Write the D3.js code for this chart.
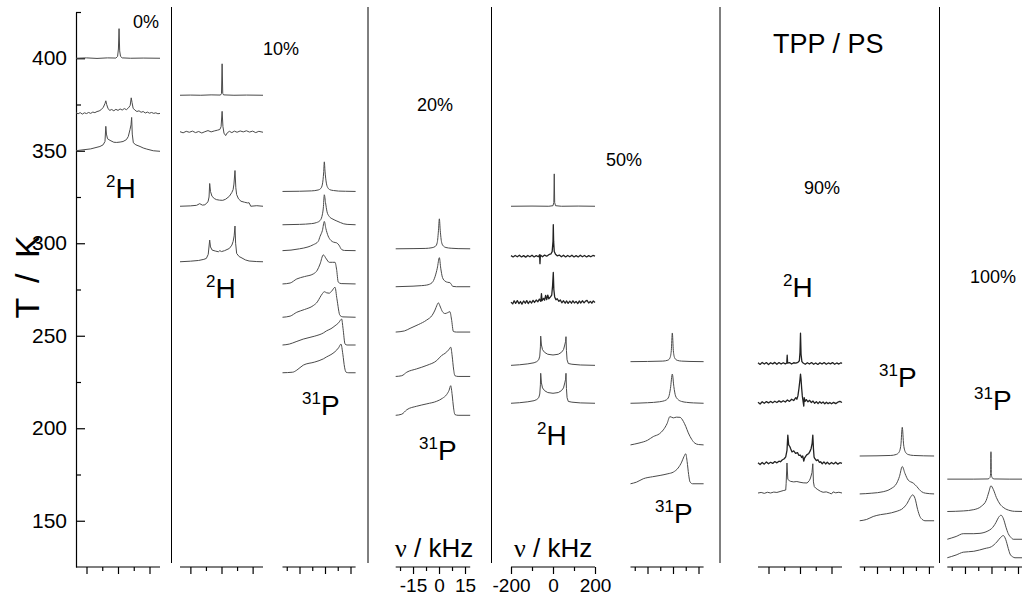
<!DOCTYPE html>
<html><head><meta charset="utf-8">
<script src="https://cdn.jsdelivr.net/npm/d3@7"></script>
<style>body{margin:0;background:#fff}svg{display:block;font-family:"Liberation Sans",Arial,sans-serif}</style>
</head><body>
<script>
// ---------- DATA ----------
const yTicksMajor = [150, 200, 250, 300, 350, 400];
const yTicksMinor = [175, 225, 275, 325, 375, 425];
const ticks2H = [-150, 0, 150], minor2H = [-75, 75];
const ticks2HLab = [-200, 0, 200], minor2HLab = [-100, 100];
const ticks31P = [-15, 0, 15], minor31P = [-22.5, -7.5, 7.5];

// 0 % TPP, 2H spectra  [nu kHz, intensity (K)]
const H0_T = [400, 370, 350];
const H0_S = [
 [[-200,0],[-150,0.2],[-100,-0.1],[-50,0.2],[-10,0.1],[-2,1],[2,5],[5,16],[8,4],[12,1],[20,0.2],[60,0],[120,0.1],[200,0]],
 [[-200,0.5],[-190,0],[-180,0.6],[-170,-0.2],[-160,0.5],[-150,0.1],[-140,0.7],[-130,0.2],[-120,0.9],[-110,0.6],[-100,1.2],[-90,1.5],[-80,2.2],[-70,3.5],[-62,5.5],[-58,7],[-54,5],[-48,3],[-40,1.8],[-30,2.3],[-20,1.6],[-10,2.4],[0,1.8],[10,2.6],[20,2],[30,2.8],[40,2.2],[50,3.2],[58,4.5],[63,8.6],[67,6],[72,3],[80,2],[90,1.2],[100,1.6],[110,0.8],[120,1.2],[130,0.4],[140,0.9],[150,0.3],[160,0.7],[170,0.2],[180,0.5],[190,0],[200,0.2]],
 [[-200,0],[-181,0.3],[-130,1],[-86,2.3],[-71,3.2],[-62,5],[-58,13.2],[-55,9],[-50,6.5],[-38,5.6],[-20,4.6],[-6,4.5],[10,4.7],[24,5],[40,6],[49,7.7],[57,11.4],[62,14],[65,18],[68,9],[73,4.3],[85,3.2],[105,2.3],[120,1.5],[137,0.9],[168,0],[200,-0.3]]
];
// 10 % TPP, 2H
const H10_T = [380, 360, 320, 290];
const H10_S = [
 [[-200,0],[-150,0.1],[-100,0],[-50,0.2],[-5,0.1],[0,1],[3,17],[6,1],[10,0.2],[60,0],[120,0.1],[200,0]],
 [[-200,0.3],[-185,-0.3],[-170,0.5],[-155,0],[-140,0.6],[-125,-0.2],[-110,0.4],[-95,-0.4],[-80,0.3],[-65,0.9],[-50,0.2],[-35,0.7],[-20,1.1],[-8,1.5],[-2,3],[3,11.3],[7,3],[12,-0.5],[20,-1.8],[28,-0.3],[38,0.5],[50,-0.2],[62,0.6],[75,0],[90,0.7],[105,0.2],[120,0.8],[135,0.1],[150,0.6],[165,-0.2],[180,0.5],[200,0]],
 [[-200,0],[-150,0.2],[-120,0.5],[-105,1.4],[-92,0.6],[-80,0.8],[-65,2.4],[-60,5],[-57,12.3],[-53,8],[-46,5.4],[-35,4.2],[-25,3.6],[-10,3.3],[6,3.2],[20,3.8],[38,5.4],[50,7.5],[56,9],[60,12],[65,19.3],[69,10],[73,6.3],[82,4],[94,2.7],[110,2.2],[125,1.8],[133,1.9],[141,0],[170,0.3],[200,0]],
 [[-200,0],[-150,0.3],[-110,0.7],[-85,1.3],[-73,1.8],[-64,4],[-57,11.7],[-53,8],[-45,6.3],[-30,5.8],[-15,5.4],[-8,6],[0,5.5],[15,6],[38,7.2],[50,9],[56,11],[61,14],[65,19.3],[68,10],[73,4.5],[85,2.8],[94,2.3],[115,1],[133,0.4],[170,0.1],[200,0]]
];
// 10 % TPP, 31P
const P10_T = [328, 310, 296, 278, 260, 245, 230];
const P10_S = [
 [[-25,0],[-15,0.1],[-8,0.3],[-4,0.8],[-2.5,1.6],[-1.5,4],[-0.8,10],[-0.4,16],[0,11],[0.8,4.5],[1.8,1.8],[3,0.9],[5,0.5],[8,0.2],[12,0.1],[18,0]],
 [[-25,0],[-15,0.2],[-8,0.6],[-4.9,1.2],[-3,2.2],[-1.8,4.5],[-1,9],[-0.4,16.2],[0.3,12],[1.2,7],[2.5,4.5],[4.7,3],[7,2],[9,1.2],[11,0.5],[13,0.2],[18,0]],
 [[-25,0],[-20,0.3],[-15,1],[-10,2],[-6.9,3.2],[-4,5],[-2.9,7.7],[-1.5,11],[-0.4,15.8],[0.5,12],[1.8,8],[3.5,5.5],[5,4.6],[6.9,4.2],[8.2,3],[9.8,0.6],[11.5,0.1],[18,0]],
 [[-25,0],[-20.5,0.5],[-16.6,2.7],[-12,4],[-6.9,5.4],[-4.5,7.5],[-2.9,10.8],[-1,15.7],[0.8,13.5],[2.5,11.7],[4.5,11.7],[5.9,11.7],[6.8,8],[7.8,1],[9.5,0.2],[18,0]],
 [[-25,0],[-20.5,0.6],[-16.6,2.7],[-12,4.2],[-6.9,6.3],[-4.5,8.3],[-2.9,10.8],[-1.5,12.8],[-0.4,13.8],[1,13.2],[2.5,13],[4,14.2],[5.9,16.2],[7,10],[8.8,1],[10.5,0.2],[18,0]],
 [[-25,0],[-21,0.5],[-17,1.8],[-12.8,3.2],[-6,4.8],[-1,6.5],[1,7.7],[3.5,8.8],[5.9,10.4],[8,12],[9.8,14],[10.6,9],[11.8,0.5],[13,0],[18,0]],
 [[-25,0],[-19,0.3],[-16.6,1.4],[-12.8,4.1],[-6,5.8],[-1,7.5],[1,8.6],[3.5,9.8],[5.9,11.4],[8,13.5],[9.4,15.5],[10.5,10],[11.5,3],[12.4,0.3],[14,0],[18,0]]
];
// 20 % TPP, 31P
const P20_T = [297, 276.5, 252, 228, 207];
const P20_S = [
 [[-25,0],[-15,0.1],[-8,0.2],[-4,0.6],[-2,1.4],[-1,3.5],[-0.3,10],[0.2,16.2],[0.7,10],[1.5,3.5],[2.5,1.5],[4,0.7],[7,0.3],[11,0.1],[18,0]],
 [[-25,0],[-15,0.3],[-10,0.6],[-7.1,0.9],[-4,2.2],[-2.3,5.4],[-1,10],[0.2,15.7],[1,10],[2,5],[3.5,3],[5,2.4],[6.3,2.2],[7.1,1.3],[7.9,0.2],[10,0],[18,0]],
 [[-25,0],[-20,0.6],[-16.7,2],[-12,4],[-7.1,6.5],[-4,9],[-2.3,11.9],[-1.2,14.5],[-0.4,15.8],[0.8,13.5],[2,11],[3.5,10],[5,10.5],[6.3,11],[7.2,7],[8.3,0.3],[10,0],[18,0]],
 [[-25,0],[-21.5,0.4],[-18.6,2.3],[-12.9,4.1],[-7,6],[-1.3,8.6],[1.6,11.4],[3.5,12.5],[5.5,14.3],[6.75,15.8],[7.6,11],[8.4,4],[9.2,0.4],[11,0],[18,0]],
 [[-25,0],[-21.5,0.6],[-18.6,3],[-12.9,4.9],[-7,6.2],[-1.3,7.6],[2,9.2],[4.4,11.2],[5.8,13.5],[6.75,16],[7.6,11],[8.4,4],[9.2,0.4],[11,0],[18,0]]
];
// 50 % TPP, 2H
const H50_T = [320, 293, 268, 234, 213.5];
const H50_S = [
 [[-200,0],[-100,0.1],[-20,0],[0,0.3],[4,2],[6,17.5],[8,2],[12,0.3],[40,0],[120,0.1],[200,0]],
 [[-200,0.3],[-190,-0.4],[-180,0.4],[-170,-0.3],[-160,0.5],[-150,-0.4],[-140,0.3],[-130,-0.5],[-120,0.4],[-110,-0.3],[-100,0.5],[-90,-0.4],[-80,0.3],[-70,-0.3],[-64,0.8],[-62,-4],[-60,0.6],[-50,-0.3],[-40,0.6],[-30,0],[-20,0.8],[-10,1.2],[-4,2.5],[0,8],[1.4,17],[3,8],[6,2.5],[12,1],[20,0.2],[30,0.6],[40,-0.3],[50,0.5],[60,-0.4],[70,0.4],[80,-0.3],[90,0.5],[100,-0.4],[110,0.3],[120,-0.4],[130,0.5],[140,-0.3],[150,0.4],[160,-0.4],[170,0.3],[180,-0.3],[190,0.4],[200,0]],
 [[-200,0.2],[-192,-0.8],[-185,0.9],[-178,-0.5],[-170,1],[-162,-0.6],[-155,0.5],[-148,-0.9],[-140,0.8],[-132,-0.4],[-125,1],[-118,-0.6],[-110,0.7],[-102,-0.3],[-95,1.1],[-88,0],[-80,1.3],[-72,0.4],[-65,1.8],[-58,0.6],[-55,4.7],[-52,1],[-45,2.2],[-40,1.2],[-35,3.8],[-30,1.5],[-25,4],[-20,2],[-12,3],[-6,4],[-2,9],[1.4,16.2],[4,7],[8,3],[14,1.4],[20,2],[28,0.6],[35,1.3],[42,-0.2],[50,0.9],[58,-0.4],[65,0.8],[72,-0.5],[80,0.7],[88,-0.4],[95,0.9],[102,-0.3],[110,0.6],[118,-0.6],[125,0.8],[132,-0.3],[140,0.9],[148,-0.2],[155,0.7],[162,1.1],[170,-0.3],[178,0.6],[185,-0.4],[192,0.8],[200,0]],
 [[-200,0],[-160,0.3],[-120,0.8],[-90,1.4],[-77.6,2],[-68,3],[-63,5],[-60,10],[-58.6,15.8],[-55,11],[-50,8.5],[-40,7],[-25,6],[0,5.6],[25,6],[40,7],[50,8.5],[56,11],[60,13],[61.9,15.5],[64,8],[67,3],[72.9,1],[90,0.6],[130,0.2],[200,0]],
 [[-200,0],[-160,0.3],[-120,0.8],[-90,1.4],[-77.6,2],[-68,3],[-63,5],[-60,10],[-58.6,16.2],[-55,11],[-50,8.3],[-40,6.8],[-25,5.8],[0,5.4],[25,5.8],[40,6.8],[50,8.3],[56,11],[60,13],[61.9,16.2],[64,8],[67,3],[72.9,1],[90,0.6],[130,0.2],[200,0]]
];
// 50 % TPP, 31P
const P50_T = [236, 213.5, 191, 170];
const P50_S = [
 [[-25,0],[-15,0.1],[-6,0.3],[-3,0.8],[-1.8,2],[-1,6],[-0.4,15.5],[0.2,6],[1,2],[2.5,0.7],[5,0.3],[10,0.1],[18,0]],
 [[-25,0],[-15,0.3],[-8,0.8],[-4,1.8],[-2.5,3.5],[-1.5,8],[-0.4,15.8],[0.5,9],[1.5,4],[3,2],[5,1],[8,0.5],[12,0.2],[18,0]],
 [[-25,0],[-20,1],[-15,2.5],[-11.6,4.5],[-8,6],[-5.7,8.1],[-3.5,11.5],[-1.8,15.3],[0.2,14.6],[2,15],[4.1,14.9],[6.1,12.7],[7.5,10],[9,6.5],[11,3],[12.9,0.9],[15,0.2],[18,0]],
 [[-25,0],[-21.4,0.9],[-17.5,2.7],[-12,3.8],[-7.6,4.5],[-3,5.4],[0.2,6.3],[3,8.5],[5.1,11.7],[6.5,14.8],[7.5,16.2],[8.3,12],[9.2,5],[10,1],[11.5,0],[18,0]]
];
// 90 % TPP, 2H
const H90_T = [235, 213.5, 181, 165];
const H90_S = [
 [[-200,0.4],[-190,-0.5],[-180,0.6],[-170,-0.3],[-160,0.5],[-150,-0.6],[-140,0.4],[-130,-0.2],[-120,0.6],[-110,-0.4],[-100,0.5],[-90,-0.3],[-80,0.4],[-70,-0.2],[-63,0.3],[-61,4.5],[-59,0.2],[-50,0.5],[-40,-0.3],[-30,0.4],[-20,0.2],[-10,0.6],[-3,1.5],[0,6],[2.4,16.4],[5,5],[9,1],[15,0.3],[25,-0.4],[35,0.4],[45,-0.3],[55,0.5],[65,-0.4],[75,0.3],[85,-0.5],[95,0.4],[105,-0.3],[115,0.5],[125,-0.4],[135,0.3],[145,-0.2],[155,0.5],[165,-0.4],[175,0.3],[185,-0.3],[195,0.4],[200,0]],
 [[-200,0.5],[-190,-0.4],[-180,0.8],[-170,0],[-160,0.9],[-150,0.2],[-140,1],[-130,0.3],[-120,1.1],[-110,0.4],[-100,1.3],[-90,0.6],[-80,1.4],[-70,0.7],[-60,1.8],[-50,1],[-40,2.2],[-30,1.5],[-20,3],[-15,2.2],[-10,4],[-5,8],[0,13],[2.4,15.8],[5,13],[8,8],[11,4],[14,1.5],[18,-1.5],[20,3],[24,1],[30,2],[38,0.8],[46,1.6],[54,0.4],[62,1.2],[70,0],[78,0.9],[86,-0.2],[94,0.8],[102,0],[110,0.7],[118,-0.3],[126,0.6],[134,-0.2],[142,0.4],[150,-0.3],[160,0.5],[170,-0.2],[180,0.6],[190,1],[200,0.4]],
 [[-200,0.3],[-190,-0.6],[-180,0.5],[-170,-0.4],[-160,0.8],[-150,-0.2],[-140,0.6],[-130,0],[-120,1],[-110,0.3],[-100,1.2],[-93,0.9],[-85,1.8],[-75,2.5],[-68,3.5],[-62,7],[-58,15.3],[-54,10],[-48,9],[-45,8.1],[-38,6.2],[-30,6.8],[-21,5.4],[-12,5.8],[-5,4.3],[2,4.5],[8,3.2],[13,4],[18,1.2],[22,3],[26,3.6],[32,4.6],[42,5.4],[48,6.6],[53,8.1],[58,11],[61,15.3],[64,8],[67,3.5],[70,2.7],[78,1.5],[85,2],[92,0.6],[98,0.9],[106,-0.2],[114,0.8],[122,-0.3],[130,0.6],[140,-0.4],[150,0.5],[160,-0.3],[170,0.6],[180,-0.4],[190,0.4],[200,0]],
 [[-200,0],[-185,0.3],[-170,-0.2],[-155,0.4],[-140,0],[-125,0.5],[-110,0.3],[-95,0.8],[-80,1.3],[-68,1.6],[-66,5],[-62,16.2],[-58,7.5],[-50,6.5],[-45,6.3],[-30,6],[-15,6.2],[0,5.8],[15,5.5],[34,5.4],[45,6.8],[50,8.1],[57,11],[61,15.8],[64,6],[68,3.5],[74,2.7],[85,1.8],[98,0.9],[110,0.4],[125,0.6],[140,0],[150,-0.5],[158,0.6],[170,0.1],[185,0.4],[200,0]]
];
// 90 % TPP, 31P
const P90_T = [185, 164.5, 150];
const P90_S = [
 [[-25,0],[-15,0.1],[-7,0.3],[-4,0.8],[-2.3,2],[-1.2,6],[-0.4,15.5],[0.4,6],[1.5,2],[3,0.8],[6,0.3],[12,0.1],[18,0]],
 [[-25,0],[-18,0.4],[-11.4,1.2],[-7,2.8],[-3.6,5.8],[-2,9.5],[-0.4,14.8],[1.2,11],[3,7.5],[6,5.8],[8,4],[9.5,2.3],[10.8,1.2],[13,0.4],[18,0]],
 [[-25,0],[-21,0.7],[-17.2,2.3],[-13,3.3],[-9.4,3.8],[-4,5],[0.2,6.9],[2.5,9.5],[4.2,12.5],[5.6,14],[7,12],[8.5,6],[9.8,2.3],[11,0.8],[12.7,0],[18,0]]
];
// 100 % TPP, 31P
const P100_T = [172.5, 155, 140, 130];
const P100_S = [
 [[-25,0],[-10,0],[-2,0.1],[-0.9,0.8],[-0.5,3],[-0.3,14.8],[-0.1,3],[0.3,0.8],[1.5,0.1],[10,0],[18,0]],
 [[-25,0],[-16,0.3],[-10,1],[-5.5,3],[-3,6],[-1.5,10.5],[-0.3,13.9],[1,12],[2.8,7.5],[4.8,4],[7,2],[10.5,0.5],[13,0.1],[18,0]],
 [[-25,0],[-20,1.5],[-16,3],[-10,3],[-6.5,3.2],[-2,4.5],[0.1,5.8],[2.5,9],[4,11.8],[5.4,13],[6.8,11],[8.2,6.5],[9.5,3],[11,1],[12.3,0],[18,0]],
 [[-25,0],[-20,1.5],[-16,3],[-10,3.5],[-3.7,5],[0,6],[3,8.5],[5,10.8],[6.7,12],[8,10],[9.5,5],[10.5,2],[12,0.5],[13.3,0],[18,0]]
];

// ---------- LAYOUT ----------
const W = 1022, H = 603;
const yAxisX = 76, axisY = 567;
const y = d3.scaleLinear().domain([125, 425]).range([axisY, 12]);

const panels = [
 {nuc:"2H",  r:[76,160],  T:H0_T,  S:H0_S,  maj:ticks2H, min:minor2H, noisy:[]},
 {nuc:"2H",  r:[180,263], T:H10_T, S:H10_S, maj:ticks2H, min:minor2H, noisy:[]},
 {nuc:"31P", r:[282.5,355.6], T:P10_T, S:P10_S, maj:ticks31P, min:minor31P, noisy:[]},
 {nuc:"31P", r:[395.7,470.2], T:P20_T, S:P20_S, maj:ticks31P, min:minor31P, noisy:[], lab:true},
 {nuc:"2H",  r:[511,595], T:H50_T, S:H50_S, maj:ticks2HLab, min:minor2HLab, noisy:[1,2], lab:true},
 {nuc:"31P", r:[630.5,703.6], T:P50_T, S:P50_S, maj:ticks31P, min:minor31P, noisy:[]},
 {nuc:"2H",  r:[758,842], T:H90_T, S:H90_S, maj:ticks2H, min:minor2H, noisy:[0,1,2]},
 {nuc:"31P", r:[859.7,934.1], T:P90_T, S:P90_S, maj:ticks31P, min:minor31P, noisy:[]},
 {nuc:"31P", r:[947.3,1023.3], T:P100_T, S:P100_S, maj:ticks31P, min:minor31P, noisy:[]}
];

const svg = d3.select("body").append("svg").attr("width", W).attr("height", H);

// separators
const seps = [171.5, 368, 491.5, 720, 939.5];
svg.selectAll("line.sep").data(seps).join("line").attr("class","sep")
  .attr("x1", d=>d).attr("x2", d=>d).attr("y1", 7).attr("y2", 563)
  .attr("stroke", "#000").attr("stroke-width", 1);

// y axis
const gy = svg.append("g").attr("transform", `translate(${yAxisX},0)`);
gy.call(d3.axisLeft(y).tickValues(yTicksMajor).tickSizeInner(-9).tickSizeOuter(0).tickPadding(9));
gy.append("g").call(d3.axisLeft(y).tickValues(yTicksMinor).tickSizeInner(-5).tickSizeOuter(0).tickFormat(""))
  .select(".domain").remove();
gy.selectAll("text").attr("font-size", 21).attr("font-family", "Liberation Sans, Arial").attr("fill","#000");
gy.selectAll("line,path").attr("stroke", "#000").attr("stroke-width", 1.2);

svg.append("text").attr("transform", "translate(39,277) rotate(-90)")
  .attr("text-anchor", "middle").attr("font-size", 34).attr("word-spacing", 6)
  .attr("fill","#000").text("T / K");

// panels
panels.forEach(p => {
  const x = d3.scaleLinear().domain(p.nuc === "2H" ? [-200, 200] : [-25, 18]).range(p.r);
  const g = svg.append("g").attr("transform", `translate(0,${axisY})`);
  g.call(d3.axisBottom(x).tickValues(p.maj).tickSizeInner(7).tickSizeOuter(0).tickPadding(5)
      .tickFormat(p.lab ? (d => String(d)) : ""));
  g.append("g").call(d3.axisBottom(x).tickValues(p.min).tickSizeInner(4).tickSizeOuter(0).tickFormat(""))
    .select(".domain").remove();
  g.selectAll("line,path").attr("stroke", "#000").attr("stroke-width", 1.2);
  g.selectAll("text").attr("font-size", 19).attr("fill","#000");
  g.select(".domain").attr("d", `M${p.r[0]},0H${Math.min(p.r[1], W)}`);

  p.S.forEach((s, i) => {
    const T0 = p.T[i];
    const line = d3.line().x(d => x(d[0])).y(d => y(T0 + d[1]))
      .curve(p.nuc === "31P" ? d3.curveMonotoneX : d3.curveLinear);
    const noisy = p.noisy.includes(i);
    svg.append("path").attr("d", line(s)).attr("fill", "none")
      .attr("stroke", noisy ? "#222" : "#4a4a4a").attr("stroke-width", noisy ? 1.3 : 1)
      .attr("stroke-linejoin", "round");
  });
});

// percent labels
const pctLabels = [["0%",133,28],["10%",263,55],["20%",417,111],["50%",606,166],["90%",804,194],["100%",970,283]];
svg.selectAll("text.pct").data(pctLabels).join("text").attr("class","pct")
  .attr("x", d=>d[1]).attr("y", d=>d[2]).attr("font-size", 18).attr("fill","#000").text(d=>d[0]);

svg.append("text").attr("x", 773).attr("y", 53).attr("font-size", 27).attr("fill","#000").text("TPP / PS");

// nucleus labels [mass, letter, x, baseline]
const nucLabels = [["2","H",106,198],["2","H",206,298],["31","P",302,415],["31","P",419,460],["2","H",537,445],
                   ["31","P",655,523],["2","H",783,297],["31","P",879,387],["31","P",974,410]];
nucLabels.forEach(d => {
  const t = svg.append("text").attr("x", d[2]).attr("y", d[3]).attr("font-size", 28).attr("fill","#000");
  t.append("tspan").attr("font-size", 17).attr("dy", -11).text(d[0]);
  t.append("tspan").attr("dy", 11).text(d[1]);
});

// axis unit labels
[395, 514].forEach(x0 => {
  const t = svg.append("text").attr("x", x0).attr("y", 557).attr("font-size", 26).attr("fill","#000");
  t.append("tspan").attr("font-family", "Liberation Serif, DejaVu Serif, serif").text("ν");
  t.append("tspan").text(" / kHz");
});
</script>
</body></html>
